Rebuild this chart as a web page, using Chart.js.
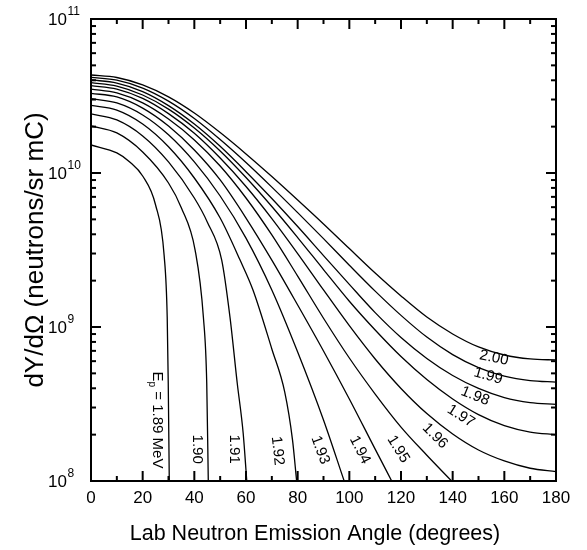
<!DOCTYPE html>
<html>
<head>
<meta charset="utf-8">
<script src="https://cdn.jsdelivr.net/npm/chart.js@4.4.0/dist/chart.umd.min.js"></script>
<style>
  html, body { margin: 0; padding: 0; background: #fff; }
</style>
</head>
<body>
<canvas id="yieldChart" width="587" height="550"></canvas>
<script>
// lab angles (degrees) for the curves that run over the whole range
var angles = [0, 10, 20, 30, 40, 50, 60, 70, 80, 90, 100, 110, 120, 130, 140, 150, 160, 170, 180];

// dY/dOmega (neutrons/sr mC)
var yield200 = [4.33e10, 4.17e10, 3.73e10, 3.12e10, 2.45e10, 1.83e10, 1.33e10, 9.49e9, 6.68e9, 4.67e9, 3.23e9, 2.24e9, 1.59e9, 1.16e9, 9.01e8, 7.42e8, 6.58e8, 6.20e8, 6.11e8];
var yield199 = [4.18e10, 4.01e10, 3.56e10, 2.93e10, 2.26e10, 1.65e10, 1.17e10, 8.10e9, 5.53e9, 3.75e9, 2.52e9, 1.71e9, 1.19e9, 8.60e8, 6.62e8, 5.45e8, 4.80e8, 4.49e8, 4.39e8];
var yield198 = [4.02e10, 3.84e10, 3.38e10, 2.74e10, 2.08e10, 1.49e10, 1.02e10, 6.83e9, 4.49e9, 2.91e9, 1.89e9, 1.24e9, 8.55e8, 6.25e8, 4.84e8, 3.99e8, 3.48e8, 3.23e8, 3.14e8];
var yield197 = [3.86e10, 3.67e10, 3.21e10, 2.60e10, 1.96e10, 1.39e10, 9.35e9, 6.06e9, 3.81e9, 2.36e9, 1.47e9, 9.56e8, 6.43e8, 4.56e8, 3.41e8, 2.70e8, 2.29e8, 2.08e8, 2.00e8];
var yield196 = [3.69e10, 3.51e10, 3.05e10, 2.43e10, 1.81e10, 1.25e10, 8.17e9, 5.06e9, 3.00e9, 1.74e9, 1.02e9, 6.20e8, 3.99e8, 2.74e8, 2.02e8, 1.59e8, 1.35e8, 1.21e8, 1.15e8];

// curves that fall off the bottom of the plot (own angle lists)
var angles195 = [0, 10, 20, 30, 40, 50, 60, 70, 80, 90, 100, 110, 120, 130, 139.6];
var yield195 = [3.51e10, 3.31e10, 2.85e10, 2.24e10, 1.64e10, 1.11e10, 6.88e9, 3.96e9, 2.14e9, 1.14e9, 6.29e8, 3.67e8, 2.24e8, 1.47e8, 1.00e8];
var angles194 = [0, 10, 20, 30, 40, 50, 60, 70, 80, 90, 100, 110, 116.4];
var yield194 = [3.29e10, 3.12e10, 2.64e10, 2.02e10, 1.41e10, 9.01e9, 5.10e9, 2.72e9, 1.39e9, 6.99e8, 3.41e8, 1.61e8, 1.00e8];
var angles193 = [0, 10, 20, 30, 40, 50, 60, 70, 80, 90, 98];
var yield193 = [3.04e10, 2.85e10, 2.38e10, 1.77e10, 1.18e10, 7.09e9, 3.78e9, 1.74e9, 6.88e8, 2.49e8, 1.00e8];
var angles192 = [0, 10, 20, 30, 40, 50, 57.7, 62.7, 70, 75, 78, 79.6];
var yield192 = [2.75e10, 2.56e10, 2.08e10, 1.48e10, 9.28e9, 5.10e9, 2.72e9, 1.74e9, 7.20e8, 3.78e8, 1.85e8, 1.00e8];
var angles191 = [0, 10, 20, 30, 40, 45, 50.6, 53.8, 56.6, 58.9, 60.3];
var yield191 = [2.42e10, 2.21e10, 1.74e10, 1.18e10, 6.88e9, 4.81e9, 2.72e9, 1.16e9, 4.33e8, 2.05e8, 1.00e8];
var angles190 = [0, 10, 20, 30, 35, 40.3, 43.5, 44.8, 45.4];
var yield190 = [2.02e10, 1.82e10, 1.37e10, 8.61e9, 5.93e9, 3.16e9, 1.16e9, 4.33e8, 1.00e8];
var angles189 = [0, 10, 15, 20, 25, 28.3, 29.5, 29.9, 30.3];
var yield189 = [1.52e10, 1.35e10, 1.18e10, 9.56e9, 6.20e9, 2.93e9, 1.16e9, 4.33e8, 1.00e8];

// proton energies (MeV) and axis ticks
var energies = ["1.89", "1.90", "1.91", "1.92", "1.93", "1.94", "1.95", "1.96", "1.97", "1.98", "1.99", "2.00"];
var yDecades = [1e8, 1e9, 1e10, 1e11];
var xTicks = [0, 20, 40, 60, 80, 100, 120, 140, 160, 180];

var curveX = [angles189, angles190, angles191, angles192, angles193, angles194, angles195, angles, angles, angles, angles, angles];
var curveY = [yield189, yield190, yield191, yield192, yield193, yield194, yield195, yield196, yield197, yield198, yield199, yield200];

// where each curve label sits (data coords) and its rotation in degrees
var labelPos = [
  [25.5, 2.49e8, 90], [40.9, 1.61e8, 90], [55.4, 1.61e8, 90], [72.2, 1.57e8, 84],
  [88.7, 1.59e8, 70], [104.1, 1.59e8, 63], [118.9, 1.61e8, 58], [133.2, 1.96e8, 45],
  [143.2, 2.64e8, 32], [148.7, 3.56e8, 22], [153.7, 4.81e8, 16], [156.0, 6.29e8, 12]
];

var FONT = "'Liberation Sans', Arial, Helvetica, sans-serif";

var datasets = energies.map(function (e, i) {
  return {
    label: e,
    data: curveX[i].map(function (a, j) { return { x: a, y: curveY[i][j] }; }),
    borderColor: '#000',
    borderWidth: 1.3,
    pointRadius: 0,
    fill: false,
    cubicInterpolationMode: 'monotone'
  };
});

function seg(ctx, x1, y1, x2, y2) {
  ctx.beginPath(); ctx.moveTo(x1, y1); ctx.lineTo(x2, y2); ctx.stroke();
}

var framePlugin = {
  id: 'frame',
  afterDraw: function (chart) {
    var ctx = chart.ctx, a = chart.chartArea;
    var xs = chart.scales.x, ys = chart.scales.y;
    ctx.save();
    ctx.strokeStyle = '#000';
    ctx.lineWidth = 2;
    ctx.strokeRect(a.left, a.top, a.right - a.left, a.bottom - a.top);

    // inward ticks, mirrored on top and right
    for (var t = 0; t <= 180; t += 10) {
      var px = xs.getPixelForValue(t);
      var len = t % 20 === 0 ? 10 : 5;
      seg(ctx, px, a.bottom, px, a.bottom - len);
      seg(ctx, px, a.top, px, a.top + len);
    }
    for (var d = 0; d < yDecades.length; d++) {
      for (var m = 1; m <= 9; m++) {
        var v = yDecades[d] * m;
        if (v > 1e11) break;
        var py = ys.getPixelForValue(v);
        var l = m === 1 ? 10 : 5;
        seg(ctx, a.left, py, a.left + l, py);
        seg(ctx, a.right, py, a.right - l, py);
      }
    }

    // decade labels with superscript exponents
    ctx.fillStyle = '#000';
    ctx.textBaseline = 'middle';
    ctx.textAlign = 'left';
    yDecades.forEach(function (v) {
      var py = ys.getPixelForValue(v);
      ctx.font = '17px ' + FONT;
      ctx.fillText('10', 48, py + 1);
      ctx.font = '12px ' + FONT;
      ctx.fillText(String(Math.round(Math.log10(v))), 67.5, py - 7);
    });

    // x axis title
    ctx.font = '21.5px ' + FONT;
    ctx.textAlign = 'center';
    ctx.fillText('Lab Neutron Emission Angle (degrees)', 315, 534);

    // curve labels
    energies.forEach(function (e, i) {
      var p = labelPos[i];
      var lx = xs.getPixelForValue(p[0]), ly = ys.getPixelForValue(p[1]);
      ctx.save();
      ctx.translate(lx, ly);
      ctx.rotate(p[2] * Math.PI / 180);
      ctx.textBaseline = 'middle';
      if (i === 0) {
        ctx.font = '15px ' + FONT;
        var rest = ' = ' + e + ' MeV';
        var wE = ctx.measureText('E').width, wR = ctx.measureText(rest).width;
        ctx.font = '10px ' + FONT;
        var wp = ctx.measureText('p').width;
        var x0 = -(wE + wp + wR) / 2;
        ctx.textAlign = 'left';
        ctx.font = '15px ' + FONT;
        ctx.fillText('E', x0, 0);
        ctx.font = '10px ' + FONT;
        ctx.fillText('p', x0 + wE, 5);
        ctx.font = '15px ' + FONT;
        ctx.fillText(rest, x0 + wE + wp, 0);
      } else {
        ctx.font = '15px ' + FONT;
        ctx.textAlign = 'center';
        ctx.fillText(e, 0, 0);
      }
      ctx.restore();
    });
    ctx.restore();
  }
};

new Chart(document.getElementById('yieldChart').getContext('2d'), {
  type: 'line',
  data: { datasets: datasets },
  options: {
    responsive: false,
    animation: false,
    layout: { padding: { top: 19, right: 31, left: 0, bottom: 0 } },
    plugins: { legend: { display: false }, tooltip: { enabled: false } },
    scales: {
      x: {
        type: 'linear', min: 0, max: 180,
        grid: { display: false, drawTicks: false },
        border: { display: false },
        afterBuildTicks: function (s) { s.ticks = xTicks.map(function (v) { return { value: v }; }); },
        ticks: { color: '#000', font: { family: FONT, size: 17 }, padding: 7, maxRotation: 0 },
        afterFit: function (s) { s.height = 69; }
      },
      y: {
        type: 'logarithmic', min: 1e8, max: 1e11,
        grid: { display: false, drawTicks: false },
        border: { display: false },
        afterBuildTicks: function (s) { s.ticks = yDecades.map(function (v) { return { value: v }; }); },
        ticks: { display: false },
        title: {
          display: true, text: 'dY/dΩ (neutrons/sr mC)', color: '#000',
          font: { family: FONT, size: 26 }, padding: { top: 20 }
        },
        afterFit: function (s) { s.width = 91; }
      }
    }
  },
  plugins: [framePlugin]
});
</script>
</body>
</html>
